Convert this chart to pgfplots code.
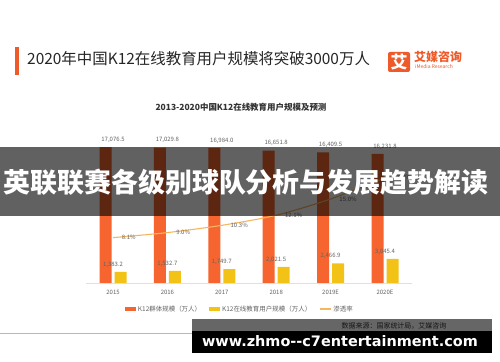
\documentclass[border=0pt]{standalone}
\usepackage{fontspec}
\setmainfont{Noto Sans CJK SC}
\newfontfamily\dejavu{DejaVu Sans}
\usepackage{pgfplots}
\pgfplotsset{compat=1.18}
\definecolor{redbar}{HTML}{F6652F}
\definecolor{yelbar}{HTML}{F2C316}
\definecolor{rateline}{HTML}{F5B75E}
\definecolor{accent}{HTML}{EE5A2A}
\definecolor{lbl}{HTML}{636363}
\begin{document}
\begin{tikzpicture}
\path[use as bounding box, fill=white] (0,0) rectangle (500bp,362bp);
% title
\fill[accent] (15bp,287bp) rectangle (19bp,315bp);
\node[anchor=west, font=\fontsize{15.5}{16}\selectfont, text=black!85, inner sep=0] at (27bp,303bp) {2020年中国K12在线教育用户规模将突破3000万人};
% logo
\fill[accent, rounded corners=2bp] (388bp,290bp) rectangle (410bp,310bp);
\node[text=white, font=\bfseries\fontsize{17}{17}\selectfont, inner sep=0] at (399bp,300bp) {艾};
\node[anchor=west, text=accent, font=\bfseries\fontsize{12}{12}\selectfont, inner sep=0] at (414bp,305bp) {艾媒咨询};
\node[anchor=west, text=accent, font=\fontsize{5}{5}\selectfont, inner sep=0] at (415bp,295bp) {iMedia Research};
% subtitle
\node[font=\bfseries\fontsize{8.5}{9}\selectfont, text=black!80, inner sep=0] at (241bp,255bp) {2013-2020中国K12在线教育用户规模及预测};

\begin{axis}[at={(85.8bp,79bp)}, anchor=south west, scale only axis,
  width=326.4bp, height=140bp, xmin=-0.5, xmax=5.5, ymin=0, ymax=17600,
  axis x line*=bottom, axis y line=none,
  x axis line style={draw=black!12, line width=0.7pt, -},
  xtick=data, xticklabels={2015,2016,2017,2018,2019E,2020E},
  xtick style={draw=none}, ytick=\empty,
  xticklabel style={font=\fontsize{6}{6}\selectfont, text=lbl, yshift=-4bp},
  /pgf/number format/assume math mode=true,
  legend columns=3,
  legend style={at={(0.472,-0.186)}, anchor=center, draw=none, fill=none,
    font=\fontsize{6.5}{7}\selectfont, text=lbl, inner sep=0pt,
    /tikz/every even column/.append style={column sep=6bp}},
  nodes near coords={\pgfmathprintnumber[fixed, fixed zerofill, precision=1, 1000 sep={,}, assume math mode=true]{\pgfplotspointmeta}},
  every node near coord/.append style={font=\fontsize{6}{6}\selectfont, text=lbl, yshift=1bp},
  ]
\addplot[ybar, bar width=12bp, bar shift=-7.5bp, fill=redbar, draw=none,
  legend image code/.code={\fill[redbar] (0bp,-2bp) rectangle (11bp,2bp);}]
  coordinates {(0,17076.5) (1,17029.8) (2,16984.0) (3,16651.8) (4,16409.5) (5,16231.8)};
\addlegendentry{K12群体规模（万人）}
\addplot[ybar, bar width=12bp, bar shift=7.5bp, fill=yelbar, draw=none,
  legend image code/.code={\fill[yelbar] (0bp,-2bp) rectangle (11bp,2bp);}]
  coordinates {(0,1383.2) (1,1532.7) (2,1749.7) (3,2021.5) (4,2466.9) (5,3045.4)};
\addlegendentry{K12在线教育用户规模（万人）}
\addlegendimage{rateline, line width=1.1pt, legend image code/.code={\draw[rateline, line width=1.1pt] (0bp,0bp) -- (11bp,0bp);}}
\addlegendentry{渗透率}
\end{axis}

\begin{axis}[at={(85.8bp,79bp)}, anchor=south west, scale only axis,
  width=326.4bp, height=140bp, xmin=-0.5, xmax=5.5, ymin=0, ymax=25, hide axis]
\addplot[rateline, line width=1.1pt, smooth, no marks,
  nodes near coords={\pgfmathprintnumber[fixed, fixed zerofill, precision=1, assume math mode=true]{\pgfplotspointmeta}\%},
  every node near coord/.append style={anchor=west, xshift=5bp, font=\fontsize{6}{6}\selectfont, text=lbl}]
  coordinates {(0,8.1) (1,9.0) (2,10.3) (3,12.1) (4,15.0) (5,18.8)};
\end{axis}

% banner overlay
\fill[black, opacity=0.62] (0,146bp) rectangle (500bp,215bp);
\node[text=white, font=\bfseries\fontsize{27}{27}\selectfont, inner sep=0] at (246bp,180bp) {英联联赛各级别球队分析与发展趋势解读};

% bottom
\draw[black!28, line width=0.8pt] (0,29bp) -- (192bp,29bp);
\node[font=\fontsize{7}{7}\selectfont, text=black!80, inner sep=0] at (394bp,36bp) {数据来源：国家统计局，艾媒咨询};
\fill[black, opacity=0.6] (192bp,31bp) rectangle (492bp,43bp);
\fill[black] (192bp,9bp) rectangle (492bp,31bp);
\node[text=white, font=\dejavu\bfseries\fontsize{14.5}{15}\selectfont, inner sep=0] at (340bp,21bp) {www.zhmo--c7entertainment.com};
\end{tikzpicture}
\end{document}
